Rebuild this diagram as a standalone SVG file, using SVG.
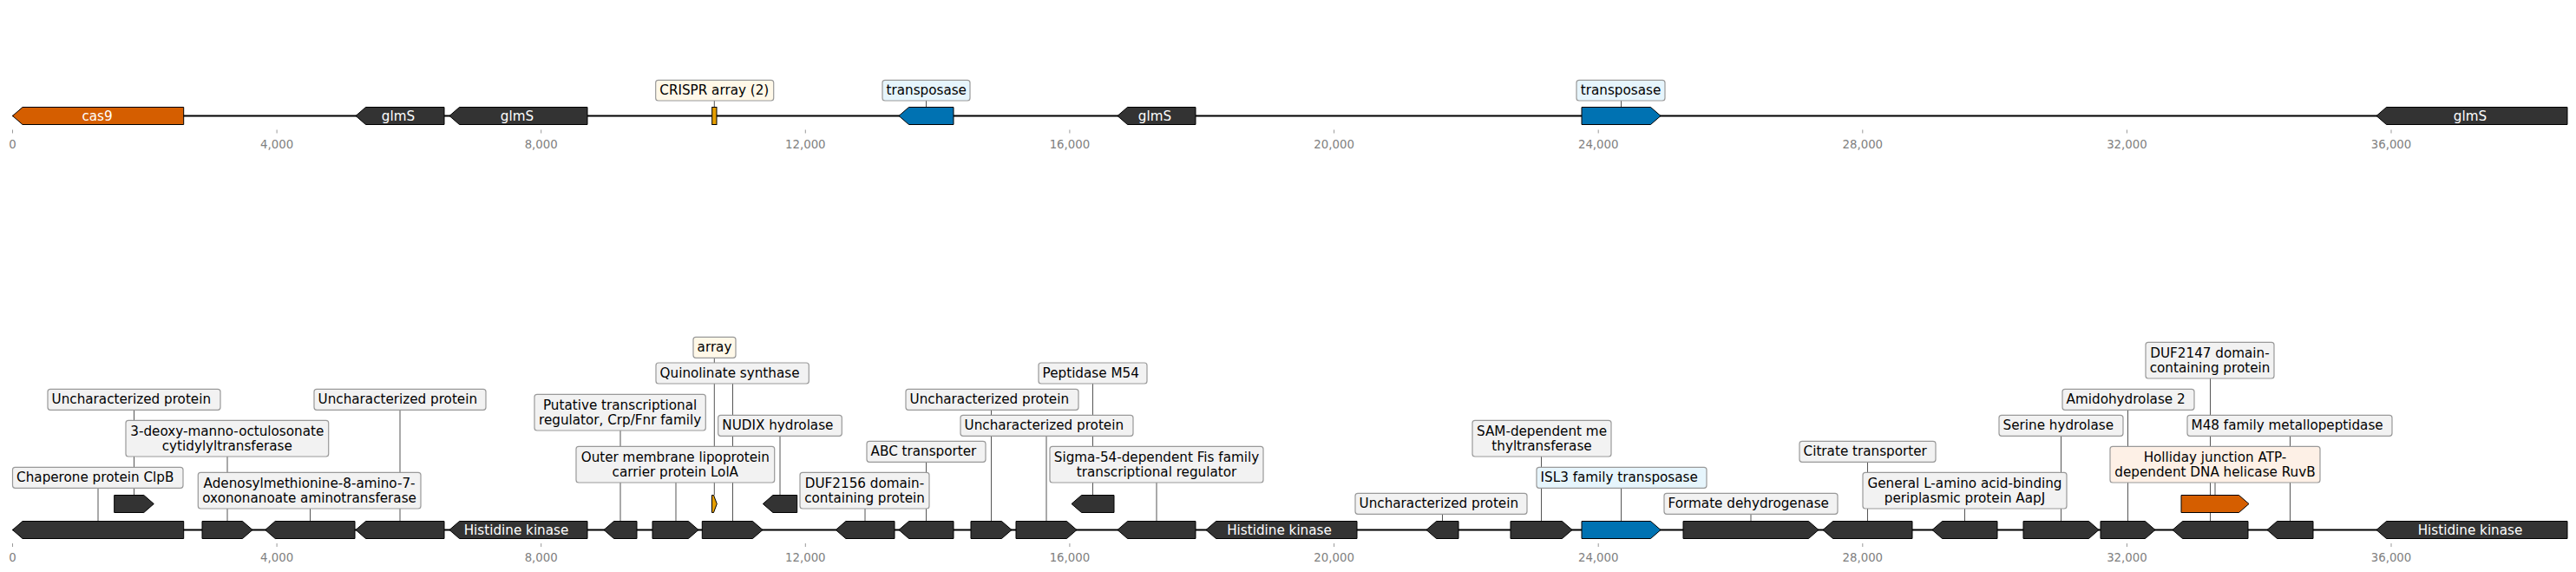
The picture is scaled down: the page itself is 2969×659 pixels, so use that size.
<svg xmlns="http://www.w3.org/2000/svg" width="2969" height="659" viewBox="0 0 2969 659">
<style>
.bg{fill:#ffffff}
.track{stroke:#000;stroke-width:2;fill:none}
.tick{stroke:#999;stroke-width:1}
.tl{font-family:"DejaVu Sans",sans-serif;font-size:13.3px;fill:#808080;text-anchor:middle}
.g{fill:#333333;stroke:#000;stroke-width:1}
.g.or{fill:#D55E00}
.g.bl{fill:#0072B2}
.g.go{fill:#E69F00}
.gt{font-family:"DejaVu Sans",sans-serif;font-size:15.2px;fill:#ffffff;text-anchor:middle}
.box{fill:#F2F2F2;stroke:#999;stroke-width:1.2}
.box.cr{fill:#FFF8E8}
.box.tr{fill:#E6F5FC}
.box.hj{fill:#FDF0E6}
.lt{font-family:"DejaVu Sans",sans-serif;font-size:15.2px;fill:#000}
.lc{font-family:"DejaVu Sans",sans-serif;font-size:15.2px;fill:#000;text-anchor:middle}
.con{stroke:#555;stroke-width:1;fill:none}
</style>
<rect class="bg" x="0" y="0" width="2969" height="659"/>

<g id="axes">
<line class="track" x1="14.5" y1="133.5" x2="2959" y2="133.5"/>
<line class="track" x1="14.5" y1="610.5" x2="2959" y2="610.5"/>
<g id="ticks-top">
<line class="tick" x1="14.5" y1="149.5" x2="14.5" y2="153.5"/><text class="tl" x="14.5" y="171">0</text>
<line class="tick" x1="319.1" y1="149.5" x2="319.1" y2="153.5"/><text class="tl" x="319.1" y="171">4,000</text>
<line class="tick" x1="623.7" y1="149.5" x2="623.7" y2="153.5"/><text class="tl" x="623.7" y="171">8,000</text>
<line class="tick" x1="928.3" y1="149.5" x2="928.3" y2="153.5"/><text class="tl" x="928.3" y="171">12,000</text>
<line class="tick" x1="1232.9" y1="149.5" x2="1232.9" y2="153.5"/><text class="tl" x="1232.9" y="171">16,000</text>
<line class="tick" x1="1537.6" y1="149.5" x2="1537.6" y2="153.5"/><text class="tl" x="1537.6" y="171">20,000</text>
<line class="tick" x1="1842.2" y1="149.5" x2="1842.2" y2="153.5"/><text class="tl" x="1842.2" y="171">24,000</text>
<line class="tick" x1="2146.8" y1="149.5" x2="2146.8" y2="153.5"/><text class="tl" x="2146.8" y="171">28,000</text>
<line class="tick" x1="2451.4" y1="149.5" x2="2451.4" y2="153.5"/><text class="tl" x="2451.4" y="171">32,000</text>
<line class="tick" x1="2756" y1="149.5" x2="2756" y2="153.5"/><text class="tl" x="2756" y="171">36,000</text>
</g>
<g id="ticks-bottom">
<line class="tick" x1="14.5" y1="626" x2="14.5" y2="630"/><text class="tl" x="14.5" y="647">0</text>
<line class="tick" x1="319.1" y1="626" x2="319.1" y2="630"/><text class="tl" x="319.1" y="647">4,000</text>
<line class="tick" x1="623.7" y1="626" x2="623.7" y2="630"/><text class="tl" x="623.7" y="647">8,000</text>
<line class="tick" x1="928.3" y1="626" x2="928.3" y2="630"/><text class="tl" x="928.3" y="647">12,000</text>
<line class="tick" x1="1232.9" y1="626" x2="1232.9" y2="630"/><text class="tl" x="1232.9" y="647">16,000</text>
<line class="tick" x1="1537.6" y1="626" x2="1537.6" y2="630"/><text class="tl" x="1537.6" y="647">20,000</text>
<line class="tick" x1="1842.2" y1="626" x2="1842.2" y2="630"/><text class="tl" x="1842.2" y="647">24,000</text>
<line class="tick" x1="2146.8" y1="626" x2="2146.8" y2="630"/><text class="tl" x="2146.8" y="647">28,000</text>
<line class="tick" x1="2451.4" y1="626" x2="2451.4" y2="630"/><text class="tl" x="2451.4" y="647">32,000</text>
<line class="tick" x1="2756" y1="626" x2="2756" y2="630"/><text class="tl" x="2756" y="647">36,000</text>
</g>
</g>

<g id="connectors">
<line class="con" x1="823.3" y1="116" x2="823.3" y2="123.5"/>
<line class="con" x1="1067.5" y1="116" x2="1067.5" y2="123.5"/>
<line class="con" x1="1868.5" y1="116" x2="1868.5" y2="123.5"/>
<line class="con" x1="113" y1="562" x2="113" y2="600.5"/>
<line class="con" x1="154.5" y1="472" x2="154.5" y2="570.5"/>
<line class="con" x1="262" y1="526" x2="262" y2="600.5"/>
<line class="con" x1="357.5" y1="586" x2="357.5" y2="600.5"/>
<line class="con" x1="461" y1="472" x2="461" y2="600.5"/>
<line class="con" x1="715" y1="496" x2="715" y2="600.5"/>
<line class="con" x1="779" y1="556" x2="779" y2="600.5"/>
<line class="con" x1="823.3" y1="412" x2="823.3" y2="570.5"/>
<line class="con" x1="844.5" y1="442" x2="844.5" y2="600.5"/>
<line class="con" x1="899" y1="502" x2="899" y2="570.5"/>
<line class="con" x1="997" y1="586" x2="997" y2="600.5"/>
<line class="con" x1="1067.5" y1="532" x2="1067.5" y2="600.5"/>
<line class="con" x1="1142.5" y1="472" x2="1142.5" y2="600.5"/>
<line class="con" x1="1206" y1="502" x2="1206" y2="600.5"/>
<line class="con" x1="1259.5" y1="442" x2="1259.5" y2="570.5"/>
<line class="con" x1="1333" y1="556" x2="1333" y2="600.5"/>
<line class="con" x1="1662.5" y1="592" x2="1662.5" y2="600.5"/>
<line class="con" x1="1776.5" y1="526" x2="1776.5" y2="600.5"/>
<line class="con" x1="1868.5" y1="562" x2="1868.5" y2="600.5"/>
<line class="con" x1="2018" y1="592" x2="2018" y2="600.5"/>
<line class="con" x1="2152.5" y1="532" x2="2152.5" y2="600.5"/>
<line class="con" x1="2264.5" y1="586" x2="2264.5" y2="600.5"/>
<line class="con" x1="2375.5" y1="502" x2="2375.5" y2="600.5"/>
<line class="con" x1="2452.5" y1="472" x2="2452.5" y2="600.5"/>
<line class="con" x1="2547.5" y1="436" x2="2547.5" y2="600.5"/>
<line class="con" x1="2553" y1="556" x2="2553" y2="570.5"/>
<line class="con" x1="2639.5" y1="502" x2="2639.5" y2="600.5"/>
</g>

<g id="top-genes">
<g id="t-cas9"><polygon class="g or" points="14.5,133.5 26,123.5 211.7,123.5 211.7,143.5 26,143.5"/><text class="gt" x="112" y="138.5">cas9</text></g>
<g id="t-glmS1"><polygon class="g" points="410,133.5 421.5,123.5 512,123.5 512,143.5 421.5,143.5"/><text class="gt" x="459" y="138.5">glmS</text></g>
<g id="t-glmS2"><polygon class="g" points="518,133.5 529.5,123.5 677,123.5 677,143.5 529.5,143.5"/><text class="gt" x="596" y="138.5">glmS</text></g>
<g id="t-crispr"><rect class="g go" x="820.7" y="123.5" width="5.3" height="20"/></g>
<g id="t-transposase1"><polygon class="g bl" points="1036,133.5 1047.5,123.5 1099,123.5 1099,143.5 1047.5,143.5"/></g>
<g id="t-glmS3"><polygon class="g" points="1288,133.5 1299.5,123.5 1378,123.5 1378,143.5 1299.5,143.5"/><text class="gt" x="1331" y="138.5">glmS</text></g>
<g id="t-transposase2"><polygon class="g bl" points="1823,123.5 1902.5,123.5 1914,133.5 1902.5,143.5 1823,143.5"/></g>
<g id="t-glmS4"><polygon class="g" points="2739,133.5 2750.5,123.5 2959,123.5 2959,143.5 2750.5,143.5"/><text class="gt" x="2847" y="138.5">glmS</text></g>
</g>

<g id="top-labels">
<g id="tl-crispr"><rect class="box cr" x="755.7" y="92.3" width="136" height="23.7" rx="3"/><text class="lt" x="760.3" y="109.2">CRISPR array (2)</text></g>
<g id="tl-transposase1"><rect class="box tr" x="1017" y="92.3" width="101" height="23.7" rx="3"/><text class="lt" x="1021.5" y="109.2">transposase</text></g>
<g id="tl-transposase2"><rect class="box tr" x="1817" y="92.3" width="102" height="23.7" rx="3"/><text class="lt" x="1821.8" y="109.2">transposase</text></g>
</g>

<g id="bottom-genes">
<g id="b1"><polygon class="g" points="14.5,610.5 26,600.5 211.7,600.5 211.7,620.5 26,620.5"/></g>
<g id="b2"><polygon class="g" points="233,600.5 279.5,600.5 291,610.5 279.5,620.5 233,620.5"/></g>
<g id="b3"><polygon class="g" points="305.7,610.5 317.2,600.5 409,600.5 409,620.5 317.2,620.5"/></g>
<g id="b4"><polygon class="g" points="410,610.5 421.5,600.5 512,600.5 512,620.5 421.5,620.5"/></g>
<g id="b5"><polygon class="g" points="518,610.5 529.5,600.5 677,600.5 677,620.5 529.5,620.5"/><text class="gt" x="595" y="615.5">Histidine kinase</text></g>
<g id="b6"><polygon class="g" points="696,610.5 707.5,600.5 734,600.5 734,620.5 707.5,620.5"/></g>
<g id="b7"><polygon class="g" points="752,600.5 793.5,600.5 805,610.5 793.5,620.5 752,620.5"/></g>
<g id="b8"><polygon class="g" points="809.3,600.5 867.5,600.5 879,610.5 867.5,620.5 809.3,620.5"/></g>
<g id="b9"><polygon class="g" points="963.3,610.5 974.8,600.5 1031,600.5 1031,620.5 974.8,620.5"/></g>
<g id="b10"><polygon class="g" points="1036,610.5 1047.5,600.5 1099,600.5 1099,620.5 1047.5,620.5"/></g>
<g id="b11"><polygon class="g" points="1119,600.5 1154.5,600.5 1166,610.5 1154.5,620.5 1119,620.5"/></g>
<g id="b12"><polygon class="g" points="1171,600.5 1229.5,600.5 1241,610.5 1229.5,620.5 1171,620.5"/></g>
<g id="b13"><polygon class="g" points="1288,610.5 1299.5,600.5 1378,600.5 1378,620.5 1299.5,620.5"/></g>
<g id="b14"><polygon class="g" points="1390,610.5 1401.5,600.5 1564,600.5 1564,620.5 1401.5,620.5"/><text class="gt" x="1474.5" y="615.5">Histidine kinase</text></g>
<g id="b15"><polygon class="g" points="1644,610.5 1655.5,600.5 1681,600.5 1681,620.5 1655.5,620.5"/></g>
<g id="b16"><polygon class="g" points="1741,600.5 1800.5,600.5 1812,610.5 1800.5,620.5 1741,620.5"/></g>
<g id="b17"><polygon class="g bl" points="1823,600.5 1902.5,600.5 1914,610.5 1902.5,620.5 1823,620.5"/></g>
<g id="b18"><polygon class="g" points="1940,600.5 2084.5,600.5 2096,610.5 2084.5,620.5 1940,620.5"/></g>
<g id="b19"><polygon class="g" points="2101,610.5 2112.5,600.5 2204,600.5 2204,620.5 2112.5,620.5"/></g>
<g id="b20"><polygon class="g" points="2227,610.5 2238.5,600.5 2302,600.5 2302,620.5 2238.5,620.5"/></g>
<g id="b21"><polygon class="g" points="2332,600.5 2407.5,600.5 2419,610.5 2407.5,620.5 2332,620.5"/></g>
<g id="b22"><polygon class="g" points="2421,600.5 2472.5,600.5 2484,610.5 2472.5,620.5 2421,620.5"/></g>
<g id="b23"><polygon class="g" points="2504,610.5 2515.5,600.5 2591,600.5 2591,620.5 2515.5,620.5"/></g>
<g id="b24"><polygon class="g" points="2613,610.5 2624.5,600.5 2666,600.5 2666,620.5 2624.5,620.5"/></g>
<g id="b25"><polygon class="g" points="2739,610.5 2750.5,600.5 2959,600.5 2959,620.5 2750.5,620.5"/><text class="gt" x="2847" y="615.5">Histidine kinase</text></g>
<g id="s1"><polygon class="g" points="131.7,570.5 165.8,570.5 177.3,580.5 165.8,590.5 131.7,590.5"/></g>
<g id="s2"><polygon class="g go" points="820.5,570.5 822.5,570.5 826.3,580.5 822.5,590.5 820.5,590.5"/></g>
<g id="s3"><polygon class="g" points="879.3,580.5 890.8,570.5 918.7,570.5 918.7,590.5 890.8,590.5"/></g>
<g id="s4"><polygon class="g" points="1235,580.5 1246.5,570.5 1284,570.5 1284,590.5 1246.5,590.5"/></g>
<g id="s5"><polygon class="g or" points="2514,570.5 2580.5,570.5 2592,580.5 2580.5,590.5 2514,590.5"/></g>
</g>

<g id="bottom-labels">
<g id="l-chaperone"><rect class="box" x="14.5" y="538.3" width="196.5" height="24" rx="3"/><text class="lt" x="19.1" y="555.3">Chaperone protein ClpB</text></g>
<g id="l-unchar1"><rect class="box" x="55" y="448.3" width="199" height="24" rx="3"/><text class="lt" x="59.6" y="465.3">Uncharacterized protein</text></g>
<g id="l-deoxy"><rect class="box" x="145" y="484.3" width="233.7" height="41.7" rx="3"/><text class="lc" x="261.8" y="502.2">3-deoxy-manno-octulosonate</text><text class="lc" x="261.8" y="518.7">cytidylyltransferase</text></g>
<g id="l-adenosyl"><rect class="box" x="228.3" y="544.3" width="256.7" height="41.7" rx="3"/><text class="lc" x="356.6" y="562.2">Adenosylmethionine-8-amino-7-</text><text class="lc" x="356.6" y="578.7">oxononanoate aminotransferase</text></g>
<g id="l-unchar2"><rect class="box" x="362" y="448.3" width="198" height="24" rx="3"/><text class="lt" x="366.6" y="465.3">Uncharacterized protein</text></g>
<g id="l-putative"><rect class="box" x="616" y="454.3" width="197.3" height="41.7" rx="3"/><text class="lc" x="714.6" y="472.2">Putative transcriptional</text><text class="lc" x="714.6" y="488.7">regulator, Crp/Fnr family</text></g>
<g id="l-outer"><rect class="box" x="664" y="514.3" width="228.7" height="41.7" rx="3"/><text class="lc" x="778.3" y="532.2">Outer membrane lipoprotein</text><text class="lc" x="778.3" y="548.7">carrier protein LolA</text></g>
<g id="l-quinolinate"><rect class="box" x="756" y="418" width="176.3" height="24" rx="3"/><text class="lt" x="760.6" y="435">Quinolinate synthase</text></g>
<g id="l-array"><rect class="box cr" x="799" y="388.3" width="49" height="24" rx="3"/><text class="lt" x="803.6" y="405.3">array</text></g>
<g id="l-nudix"><rect class="box" x="827.7" y="478.3" width="142.6" height="24" rx="3"/><text class="lt" x="832.3" y="495.3">NUDIX hydrolase</text></g>
<g id="l-duf2156"><rect class="box" x="922" y="544.3" width="149" height="41.7" rx="3"/><text class="lc" x="996.5" y="562.2">DUF2156 domain-</text><text class="lc" x="996.5" y="578.7">containing protein</text></g>
<g id="l-abc"><rect class="box" x="999" y="508.3" width="137" height="24" rx="3"/><text class="lt" x="1003.6" y="525.3">ABC transporter</text></g>
<g id="l-unchar3"><rect class="box" x="1044" y="448.3" width="199" height="24" rx="3"/><text class="lt" x="1048.6" y="465.3">Uncharacterized protein</text></g>
<g id="l-unchar4"><rect class="box" x="1107" y="478.3" width="199" height="24" rx="3"/><text class="lt" x="1111.6" y="495.3">Uncharacterized protein</text></g>
<g id="l-peptidase"><rect class="box" x="1197" y="418" width="125" height="24" rx="3"/><text class="lt" x="1201.6" y="435">Peptidase M54</text></g>
<g id="l-sigma"><rect class="box" x="1210" y="514.3" width="246" height="41.7" rx="3"/><text class="lc" x="1333" y="532.2">Sigma-54-dependent Fis family</text><text class="lc" x="1333" y="548.7">transcriptional regulator</text></g>
<g id="l-unchar5"><rect class="box" x="1562" y="568.3" width="198" height="24" rx="3"/><text class="lt" x="1566.6" y="585.3">Uncharacterized protein</text></g>
<g id="l-sam"><rect class="box" x="1697" y="484.3" width="160" height="41.7" rx="3"/><text class="lc" x="1777" y="502.2">SAM-dependent me</text><text class="lc" x="1777" y="518.7">thyltransferase</text></g>
<g id="l-isl3"><rect class="box tr" x="1771" y="538.3" width="196" height="24" rx="3"/><text class="lt" x="1775.6" y="555.3">ISL3 family transposase</text></g>
<g id="l-formate"><rect class="box" x="1918" y="568.3" width="200" height="24" rx="3"/><text class="lt" x="1922.6" y="585.3">Formate dehydrogenase</text></g>
<g id="l-citrate"><rect class="box" x="2074" y="508.3" width="157" height="24" rx="3"/><text class="lt" x="2078.6" y="525.3">Citrate transporter</text></g>
<g id="l-aapj"><rect class="box" x="2147" y="544.3" width="235" height="41.7" rx="3"/><text class="lc" x="2264.5" y="562.2">General L-amino acid-binding</text><text class="lc" x="2264.5" y="578.7">periplasmic protein AapJ</text></g>
<g id="l-serine"><rect class="box" x="2304" y="478.3" width="143" height="24" rx="3"/><text class="lt" x="2308.6" y="495.3">Serine hydrolase</text></g>
<g id="l-amido"><rect class="box" x="2377" y="448.3" width="152" height="24" rx="3"/><text class="lt" x="2381.6" y="465.3">Amidohydrolase 2</text></g>
<g id="l-duf2147"><rect class="box" x="2473" y="394.3" width="148" height="41.7" rx="3"/><text class="lc" x="2547" y="412.2">DUF2147 domain-</text><text class="lc" x="2547" y="428.7">containing protein</text></g>
<g id="l-m48"><rect class="box" x="2521" y="478.3" width="236" height="24" rx="3"/><text class="lt" x="2525.6" y="495.3">M48 family metallopeptidase</text></g>
<g id="l-holliday"><rect class="box hj" x="2432" y="514.3" width="242" height="41.7" rx="3"/><text class="lc" x="2553" y="532.2">Holliday junction ATP-</text><text class="lc" x="2553" y="548.7">dependent DNA helicase RuvB</text></g>
</g>
</svg>
